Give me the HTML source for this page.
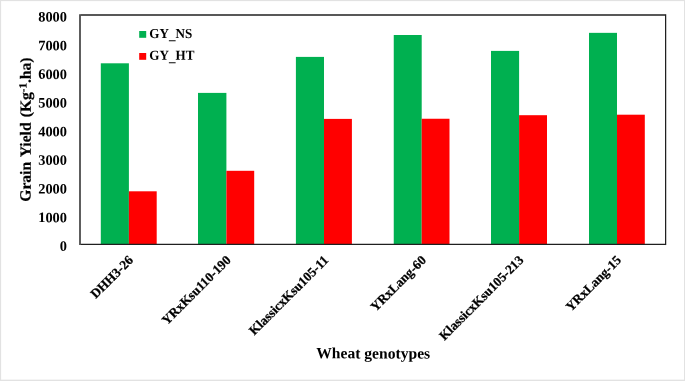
<!DOCTYPE html>
<html lang="en"><head><meta charset="utf-8"><title>Grain yield of wheat genotypes</title>
<style>
html,body{margin:0;padding:0;background:#fff;}
body{width:685px;height:381px;overflow:hidden;}
svg{display:block;font-family:"Liberation Serif","Times New Roman",serif;font-weight:bold;fill:#000;}
</style></head><body>
<svg width="685" height="381" viewBox="0 0 685 381">
<rect x="0" y="0" width="685" height="381" fill="#e2e2e2"/>
<rect x="1.1" y="1.1" width="682.9" height="378.55" fill="#fff"/>
<rect x="100.8" y="63.3" width="28.10" height="180.90" fill="#00b050"/>
<rect x="128.9" y="191.3" width="27.80" height="52.90" fill="#ff0000"/>
<rect x="198.0" y="92.9" width="28.40" height="151.30" fill="#00b050"/>
<rect x="226.4" y="170.8" width="27.80" height="73.40" fill="#ff0000"/>
<rect x="295.9" y="56.9" width="28.10" height="187.30" fill="#00b050"/>
<rect x="324.0" y="118.9" width="27.90" height="125.30" fill="#ff0000"/>
<rect x="393.75" y="35.0" width="27.95" height="209.20" fill="#00b050"/>
<rect x="421.7" y="118.75" width="27.80" height="125.45" fill="#ff0000"/>
<rect x="491.0" y="50.9" width="28.10" height="193.30" fill="#00b050"/>
<rect x="519.1" y="115.2" width="27.90" height="129.00" fill="#ff0000"/>
<rect x="589.0" y="32.85" width="28.00" height="211.35" fill="#00b050"/>
<rect x="617.0" y="114.7" width="27.80" height="129.50" fill="#ff0000"/>
<g stroke="#202020" stroke-linecap="butt"><line x1="80" y1="14.2" x2="80" y2="245.05" stroke-width="1.45"/><line x1="80.72" y1="15" x2="665" y2="15" stroke-width="1.6"/><line x1="665.62" y1="14.2" x2="665.62" y2="245.05" stroke-width="1.25"/><line x1="80.72" y1="244.45" x2="665" y2="244.45" stroke-width="1.2"/></g>
<text transform="translate(67.0,250.80) rotate(0.06)" font-size="14.4" text-anchor="end">0</text>
<text transform="translate(67.0,222.15) rotate(0.06)" font-size="14.4" text-anchor="end">1000</text>
<text transform="translate(67.0,193.50) rotate(0.06)" font-size="14.4" text-anchor="end">2000</text>
<text transform="translate(67.0,164.85) rotate(0.06)" font-size="14.4" text-anchor="end">3000</text>
<text transform="translate(67.0,136.20) rotate(0.06)" font-size="14.4" text-anchor="end">4000</text>
<text transform="translate(67.0,107.55) rotate(0.06)" font-size="14.4" text-anchor="end">5000</text>
<text transform="translate(67.0,78.90) rotate(0.06)" font-size="14.4" text-anchor="end">6000</text>
<text transform="translate(67.0,50.25) rotate(0.06)" font-size="14.4" text-anchor="end">7000</text>
<text transform="translate(67.0,21.60) rotate(0.06)" font-size="14.4" text-anchor="end">8000</text>
<rect x="139.2" y="31" width="7" height="6.8" fill="#00b050"/>
<rect x="139.2" y="53" width="7" height="6.8" fill="#ff0000"/>
<text transform="translate(149.3,38) rotate(0.06) scale(0.982,1.03)" font-size="13.33">GY<tspan dy="1.3">_</tspan><tspan dy="-1.3">NS</tspan></text>
<text transform="translate(149.3,59.8) rotate(0.06) scale(0.982,1.03)" font-size="13.33">GY<tspan dy="1.3">_</tspan><tspan dy="-1.3">HT</tspan></text>
<text transform="translate(30.7,129.6) rotate(-89.94)" font-size="15.6" word-spacing="1.2" stroke="#000" stroke-width="0.2" text-anchor="middle">Grain Yield (Kg<tspan font-size="11" dy="-4.3">-1</tspan><tspan dy="4.3">.ha)</tspan></text>
<text transform="translate(373.2,358.4) rotate(0.06)" font-size="15.6" text-anchor="middle">Wheat genotypes</text>
<text transform="translate(134.00,260.90) rotate(-45)" font-size="13.15" stroke="#000" stroke-width="0.25" text-anchor="end">DHH3-26</text>
<text transform="translate(231.60,260.90) rotate(-45)" font-size="13.15" stroke="#000" stroke-width="0.25" text-anchor="end">YRxKsu110-190</text>
<text transform="translate(329.20,260.90) rotate(-45)" font-size="13.15" stroke="#000" stroke-width="0.25" text-anchor="end">KlassicxKsu105-11</text>
<text transform="translate(426.80,260.90) rotate(-45)" font-size="13.15" stroke="#000" stroke-width="0.25" text-anchor="end">YRxLang-60</text>
<text transform="translate(524.40,260.90) rotate(-45)" font-size="13.15" stroke="#000" stroke-width="0.25" text-anchor="end">KlassicxKsu105-213</text>
<text transform="translate(622.00,260.90) rotate(-45)" font-size="13.15" stroke="#000" stroke-width="0.25" text-anchor="end">YRxLang-15</text>
</svg>
</body></html>
